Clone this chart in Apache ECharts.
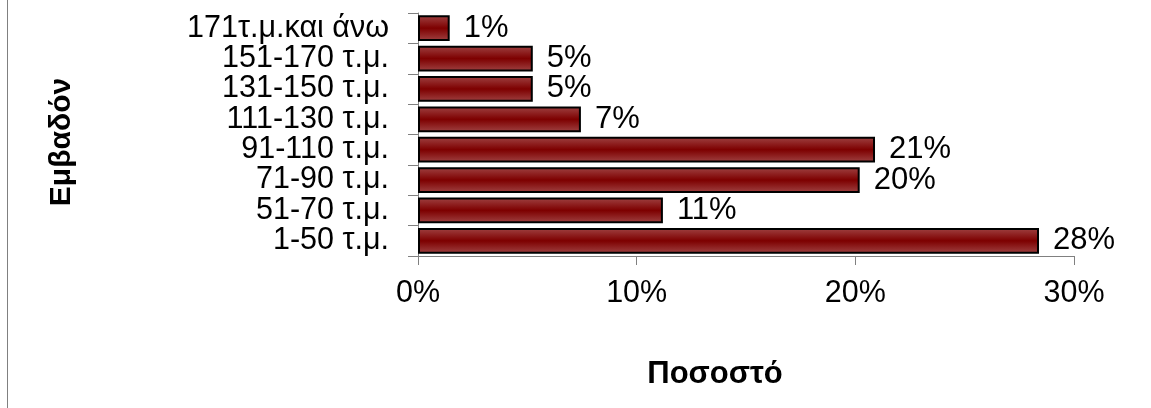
<!DOCTYPE html>
<html>
<head>
<meta charset="utf-8">
<script src="https://cdn.jsdelivr.net/npm/echarts@6/dist/echarts.min.js"></script>
<style>
html,body{margin:0;padding:0;background:#fff;}
#chart{width:1151px;height:408px;}
</style>
</head>
<body>
<div id="chart"></div>
<script>
const categories = ['1-50 τ.μ.', '51-70 τ.μ.', '71-90 τ.μ.', '91-110 τ.μ.', '111-130 τ.μ.', '131-150 τ.μ.', '151-170 τ.μ.', '171τ.μ.και άνω'];
const values = [28.4, 11.2, 20.2, 20.9, 7.45, 5.25, 5.25, 1.45];
const xTicks = [0, 10, 20, 30];
const yTitle = 'Εμβαδόν';
const xTitle = 'Ποσοστό';

const FONT = '"Liberation Sans", Arial, sans-serif';
const chart = echarts.init(document.getElementById('chart'));
chart.setOption({
  animation: false,
  backgroundColor: '#ffffff',
  grid: { left: 418, right: 77, top: 13, bottom: 152, containLabel: false },
  xAxis: {
    type: 'value',
    min: xTicks[0],
    max: xTicks[xTicks.length - 1],
    interval: xTicks[1] - xTicks[0],
    axisLine: { show: true, lineStyle: { color: '#808080', width: 1 } },
    axisTick: { show: true, length: 9, lineStyle: { color: '#808080' } },
    splitLine: { show: false },
    axisLabel: { color: '#000', fontFamily: FONT, fontSize: 30.5, margin: 22, formatter: '{value}%' }
  },
  yAxis: {
    type: 'category',
    data: categories,
    axisLine: { show: true, lineStyle: { color: '#808080', width: 1 } },
    axisTick: { show: true, length: 10, lineStyle: { color: '#808080' } },
    axisLabel: { color: '#000', fontFamily: FONT, fontSize: 30.5, margin: 29, interval: 0, hideOverlap: false }
  },
  series: [{
    type: 'bar',
    data: values,
    barCategoryGap: '15%',
    itemStyle: {
      borderColor: '#000',
      borderWidth: 2,
      color: new echarts.graphic.LinearGradient(0, 0, 0, 1, [
        { offset: 0, color: '#a04343' },
        { offset: 0.5, color: '#7d0000' },
        { offset: 1, color: '#a04343' }
      ])
    },
    label: {
      show: true,
      position: 'right',
      distance: 14,
      color: '#000',
      fontFamily: FONT,
      fontSize: 31,
      formatter: p => Math.round(p.value) + '%'
    }
  }],
  graphic: [
    { type: 'line', shape: { x1: 7.5, y1: 0, x2: 7.5, y2: 408 }, style: { stroke: '#808080', lineWidth: 1 } },
    { type: 'text', x: 62, y: 142, rotation: Math.PI / 2,
      style: { text: yTitle, fontFamily: FONT, fontSize: 30, fontWeight: 'bold', fill: '#000', textAlign: 'center', textVerticalAlign: 'middle' } },
    { type: 'text', x: 715, y: 374,
      style: { text: xTitle, fontFamily: FONT, fontSize: 31, fontWeight: 'bold', fill: '#000', textAlign: 'center', textVerticalAlign: 'middle' } }
  ]
});
</script>
</body>
</html>
